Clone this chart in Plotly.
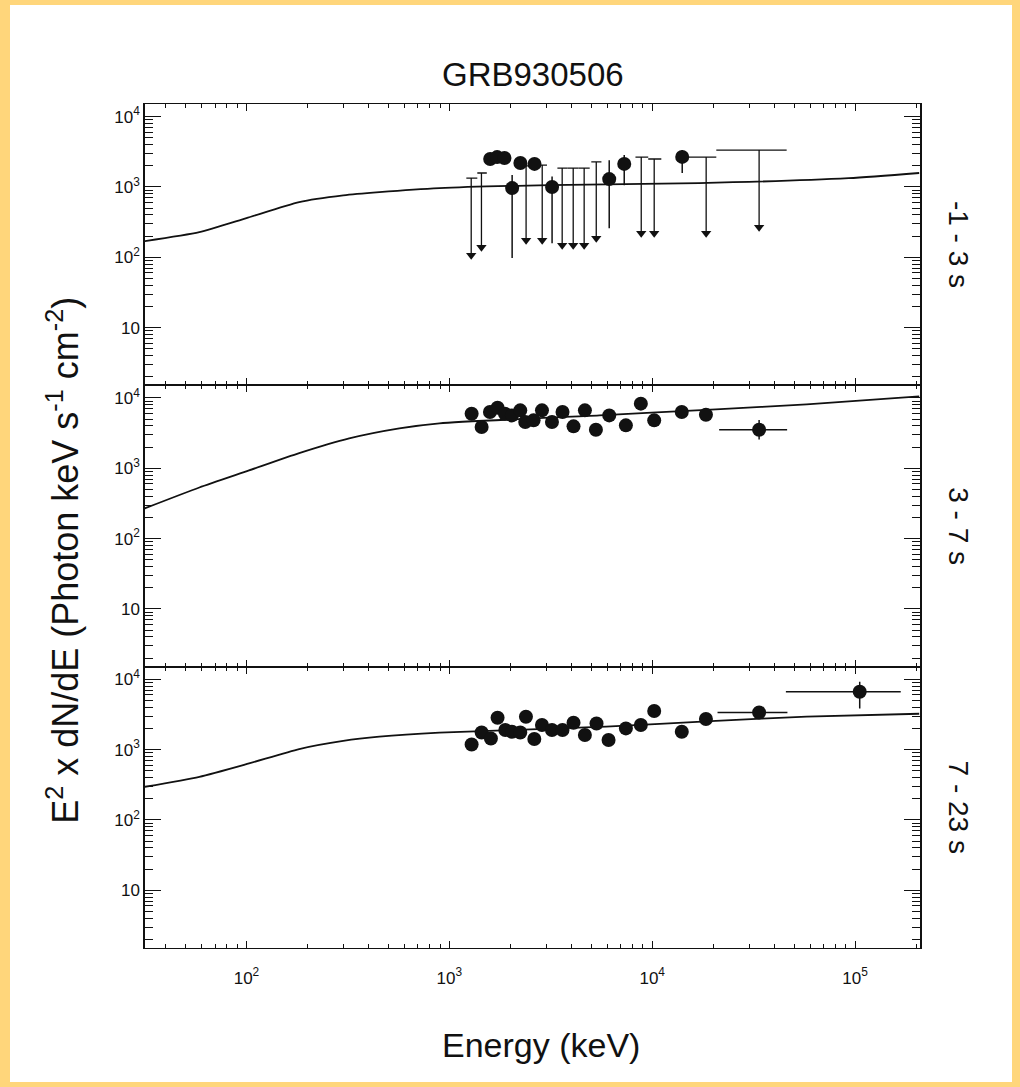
import plotly.graph_objects as go
from plotly.subplots import make_subplots

# ---------------- data (keV, E^2 dN/dE) ----------------
# model curves
m1_E = [31.5, 58.6, 100, 182, 300, 452, 894, 3120, 17000, 93000, 207000]
m1_F = [170, 228, 361, 610, 760, 845, 965, 1065, 1135, 1333, 1580]
m2_E = [31.5, 58.6, 103, 182, 321, 567, 894, 5500, 20600, 57700, 207000]
m2_F = [269, 534, 933, 1645, 2665, 3700, 4370, 5660, 6890, 8130, 10540]
m3_E = [31.5, 58.6, 103, 182, 300, 452, 894, 5930, 20600, 57700, 207000]
m3_F = [296, 411, 637, 1019, 1330, 1527, 1742, 2120, 2570, 2940, 3240]

# panel 1 upper limits
ul_E   = [1282, 1440, 2390, 2870, 3600, 4080, 4620, 5300, 8830, 10230, 18450, 33650]
ul_Elo = [1213, 1374, 2260, 2720, 3410, 3830, 4330, 5010, 8270, 9560, 14700, 20700]
ul_Ehi = [1374, 1530, 2530, 3030, 3830, 4330, 4920, 5620, 9560, 11090, 20700, 46000]
ul_val = [1340, 1580, 2000, 2050, 1860, 1860, 1860, 2270, 2660, 2500, 2660, 3350]
ul_tip = [107, 139, 175, 175, 148, 148, 148, 186, 220, 220, 220, 268]

# panel 1 detections
p1_E  = [1590, 1720, 1870, 2040, 2240, 2630, 3210, 6140, 7280, 14060]
p1_F  = [2500, 2660, 2580, 965, 2190, 2130, 1000, 1295, 2130, 2680]
p1_lo = [2250, 2400, 2350, 98, 1900, 1850, 158, 260, 1060, 1580]
p1_hi = [2900, 3000, 2950, 1480, 2500, 2450, 1410, 2400, 2850, 3370]

# panel 2
p2_E = [1288, 1443, 1586, 1729, 1880, 2036, 2237, 2367, 2602, 2862, 3206,
        3614, 4095, 4659, 5279, 6141, 7418, 8790, 10230, 13990, 18400, 33650]
p2_F = [5980, 3860, 6310, 7290, 5980, 5660, 6670, 4550, 4810, 6670, 4550,
        6310, 3950, 6670, 3540, 5660, 4080, 8310, 4810, 6310, 5790, 3540]
p2_Elo = list(p2_E[:-1]) + [21380]
p2_Ehi = list(p2_E[:-1]) + [46240]
p2_lo = list(p2_F[:-1]) + [2570]
p2_hi = list(p2_F[:-1]) + [4880]

# panel 3
p3_E = [1288, 1443, 1603, 1729, 1888, 2036, 2237, 2386, 2624, 2862, 3206, 3614,
        4095, 4659, 5316, 6093, 7418, 8790, 10230, 13990, 18400, 33650, 105400]
p3_F = [1186, 1758, 1443, 2845, 1900, 1798, 1758, 2940, 1415, 2240, 1900, 1900,
        2415, 1614, 2360, 1370, 2005, 2240, 3540, 1798, 2730, 3380, 6670]
p3_Elo = list(p3_E[:-2]) + [20990, 45600]
p3_Ehi = list(p3_E[:-2]) + [46400, 167900]
p3_lo = list(p3_F[:-1]) + [3850]
p3_hi = list(p3_F[:-1]) + [9250]

panel_labels = ["-1 - 3 s", "3 - 7 s", "7 - 23 s"]
x_tickvals = [1e2, 1e3, 1e4, 1e5]
x_ticktext = ["10<sup>2</sup>", "10<sup>3</sup>", "10<sup>4</sup>", "10<sup>5</sup>"]
y_tickvals = [10, 100, 1000, 10000]
y_ticktext = ["10", "10<sup>2</sup>", "10<sup>3</sup>", "10<sup>4</sup>"]

FONT = "Liberation Sans, Arial, Helvetica, sans-serif"
BLACK = "#111111"

fig = make_subplots(rows=3, cols=1, shared_xaxes=True, vertical_spacing=0)


def diff(a, b):
    return [x - y for x, y in zip(a, b)]


def add_points(row, E, F, Elo, Ehi, lo, hi):
    fig.add_trace(go.Scatter(
        x=E, y=F, mode="markers",
        marker=dict(symbol="circle", size=14, color=BLACK),
        error_x=dict(type="data", symmetric=False, array=diff(Ehi, E),
                     arrayminus=diff(E, Elo), color=BLACK, thickness=1.5, width=0),
        error_y=dict(type="data", symmetric=False, array=diff(hi, F),
                     arrayminus=diff(F, lo), color=BLACK, thickness=1.5, width=0),
        showlegend=False, hoverinfo="skip"), row=row, col=1)


for row, (mE, mF) in enumerate([(m1_E, m1_F), (m2_E, m2_F), (m3_E, m3_F)], start=1):
    fig.add_trace(go.Scatter(x=mE, y=mF, mode="lines",
                             line=dict(color=BLACK, width=1.8, shape="spline", smoothing=0.6),
                             showlegend=False, hoverinfo="skip"), row=row, col=1)

# upper limits (panel 1)
fig.add_trace(go.Scatter(
    x=ul_E, y=ul_val, mode="markers",
    marker=dict(size=1, color="rgba(0,0,0,0)"),
    error_x=dict(type="data", symmetric=False, array=diff(ul_Ehi, ul_E),
                 arrayminus=diff(ul_E, ul_Elo), color=BLACK, thickness=1.3, width=0),
    error_y=dict(type="data", symmetric=False, array=[0] * len(ul_E),
                 arrayminus=diff(ul_val, ul_tip), color=BLACK, thickness=1.3, width=0),
    showlegend=False, hoverinfo="skip"), row=1, col=1)
fig.add_trace(go.Scatter(
    x=ul_E, y=ul_tip, mode="markers",
    marker=dict(symbol="triangle-down", size=9, color=BLACK),
    showlegend=False, hoverinfo="skip"), row=1, col=1)

add_points(1, p1_E, p1_F, p1_E, p1_E, p1_lo, p1_hi)
add_points(2, p2_E, p2_F, p2_Elo, p2_Ehi, p2_lo, p2_hi)
add_points(3, p3_E, p3_F, p3_Elo, p3_Ehi, p3_lo, p3_hi)

x_minor = [m * 10 ** k for k in range(1, 6) for m in range(2, 10)]
y_minor = [m * 10 ** k for k in range(0, 4) for m in range(2, 10)]

for row in (1, 2, 3):
    fig.update_xaxes(type="log", range=[1.5, 5.32],
                     tickmode="array", tickvals=x_tickvals, ticktext=x_ticktext,
                     ticks="inside", ticklen=7, tickwidth=1.3, tickcolor=BLACK,
                     minor=dict(tickmode="array", tickvals=x_minor, ticks="inside",
                                ticklen=4, tickwidth=1, tickcolor=BLACK, showgrid=False),
                     showline=True, linecolor=BLACK, linewidth=1.2, mirror="allticks",
                     showgrid=False, zeroline=False,
                     tickfont=dict(family=FONT, size=17, color=BLACK),
                     ticklabelstandoff=14,
                     row=row, col=1)
    fig.update_yaxes(type="log", range=[0.18, 4.18],
                     tickmode="array", tickvals=y_tickvals, ticktext=y_ticktext,
                     ticks="inside", ticklen=16, tickwidth=1.3, tickcolor=BLACK,
                     minor=dict(tickmode="array", tickvals=y_minor, ticks="inside",
                                ticklen=8, tickwidth=1, tickcolor=BLACK, showgrid=False),
                     showline=True, linecolor=BLACK, linewidth=1.5, mirror="allticks",
                     showgrid=False, zeroline=False,
                     tickfont=dict(family=FONT, size=17, color=BLACK),
                     row=row, col=1)

annotations = []
for i, lab in enumerate(panel_labels):
    yref = "y domain" if i == 0 else f"y{i + 1} domain"
    annotations.append(dict(text=lab, xref="paper", yref=yref, x=1.05, y=0.5,
                            xanchor="center", yanchor="middle", textangle=90,
                            showarrow=False,
                            font=dict(family=FONT, size=28, color=BLACK)))
annotations.append(dict(text="E<sup>2</sup> x dN/dE (Photon keV s<sup>-1</sup> cm<sup>-2</sup>)",
                        xref="paper", yref="paper", x=-0.106, y=(948 - 560) / 844,
                        xanchor="center", yanchor="middle", textangle=-90,
                        showarrow=False, font=dict(family=FONT, size=36, color=BLACK)))
annotations.append(dict(text="Energy (keV)", xref="paper", yref="paper",
                        x=0.511, y=-0.115, xanchor="center", yanchor="middle",
                        showarrow=False, font=dict(family=FONT, size=34, color=BLACK)))
annotations.append(dict(text="GRB930506", xref="paper", yref="paper",
                        x=0.5, y=(948 - 75) / 844, xanchor="center", yanchor="middle",
                        showarrow=False, font=dict(family=FONT, size=33, color=BLACK)))

# white sheet inside the yellow frame
shapes = [dict(type="rect", xref="paper", yref="paper", layer="below",
               x0=(10 - 145) / 775, x1=(1012 - 145) / 775,
               y0=(948 - 1082) / 844, y1=(948 - 5) / 844,
               fillcolor="white", line=dict(width=0))]

fig.update_layout(width=1020, height=1087, autosize=False,
                  margin=dict(l=145, r=100, t=104, b=139),
                  paper_bgcolor="#FFD67B", plot_bgcolor="white",
                  annotations=annotations, shapes=shapes,
                  font=dict(family=FONT, color=BLACK))

fig.write_html("out.html")
